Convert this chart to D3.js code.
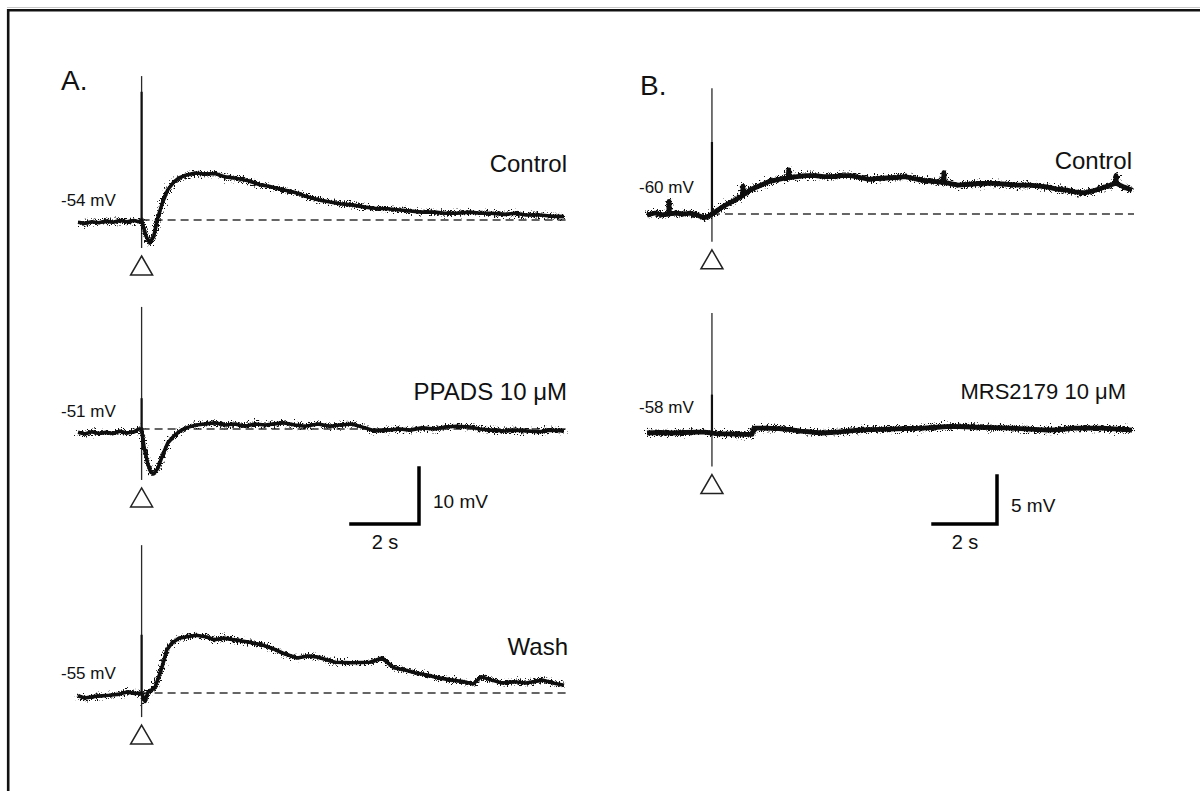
<!DOCTYPE html>
<html><head><meta charset="utf-8">
<script src="https://cdn.jsdelivr.net/npm/d3@7"></script>
<style>body{margin:0;background:#fff}svg{display:block}</style>
</head><body>
<svg id="c" width="1200" height="791"></svg>
<script>
// ---------------- DATA ----------------
const panelLabels = ["A.", "B."];
const namesA = ["Control", "PPADS 10 μM", "Wash"];
const namesB = ["Control", "MRS2179 10 μM"];
const restA = ["-54 mV", "-51 mV", "-55 mV"];
const restB = ["-60 mV", "-58 mV"];
const scaleA = [2, 10];              // [s, mV]
const scaleB = [2, 5];               // [s, mV]
const scaleLabelsA = ["2 s", "10 mV"];
const scaleLabelsB = ["2 s", "5 mV"];

// traces: [time from stimulus (s), change from resting potential (mV)]
const ctrlA = [[-1.87,-0.4],[-1.67,-0.6],[-1.46,-0.3],[-1.26,-0.5],[-1.05,-0.2],[-0.84,-0.4],[-0.64,-0.1],[-0.43,-0.3],[-0.23,-0.1],[-0.08,-0.3],[0,0],
 [0.04,-0.9],[0.13,-2.9],[0.24,-4.1],[0.36,-2.9],[0.48,0.5],[0.62,3.2],[0.77,5.4],[0.95,6.8],[1.10,7.5],[1.30,8.0],[1.57,8.4],[1.86,8.2],[2.16,8.3],
 [2.45,7.7],[2.74,7.5],[3.13,7.0],[3.48,6.3],[3.77,6.0],[4.16,5.4],[4.51,4.9],[4.80,4.3],[5.19,3.6],[5.54,3.2],[5.83,2.9],[6.18,2.7],[6.57,2.3],
 [6.86,2.1],[7.21,2.0],[7.60,1.8],[7.89,1.6],[8.24,1.4],[8.62,1.4],[8.92,1.2],[9.27,1.2],[9.66,1.4],[9.95,1.2],[10.27,1.2],[10.68,1.0],[10.98,1.2],
 [11.30,0.9],[11.71,0.9],[12.01,0.7],[12.42,0.6]];
const ppadsA = [[-1.87,-0.6],[-1.67,-0.9],[-1.46,-0.5],[-1.26,-0.8],[-1.05,-0.6],[-0.84,-0.8],[-0.64,-0.4],[-0.43,-0.7],[-0.23,-0.5],[-0.08,0.0],[0,0],
 [0.07,-3.2],[0.19,-6.4],[0.27,-7.7],[0.36,-8.0],[0.48,-7.0],[0.62,-4.6],[0.77,-2.5],[0.95,-1.25],[1.10,-0.5],[1.30,0.2],[1.60,0.7],[1.86,0.9],
 [2.16,1.1],[2.45,0.7],[2.74,0.9],[3.04,0.5],[3.33,0.9],[3.63,0.7],[4.16,1.1],[4.51,0.7],[4.80,0.5],[5.19,0.9],[5.54,0.5],[5.83,0.7],[6.18,0.9],
 [6.57,0.2],[6.86,-0.35],[7.21,-0.2],[7.60,0],[7.89,-0.2],[8.24,0.2],[8.62,0],[8.92,0.35],[9.27,0.5],[9.66,0.35],[9.95,0],[10.27,-0.2],[10.68,-0.35],
 [10.98,-0.2],[11.30,-0.35],[11.71,-0.5],[12.01,-0.2],[12.42,-0.35]];
const washA = [[-1.87,-0.5],[-1.67,-0.9],[-1.37,-0.6],[-0.96,-0.4],[-0.64,-0.2],[-0.43,0.2],[-0.20,-0.1],[0,0],[0.10,-1.5],[0.19,0.2],[0.39,0.9],
 [0.60,4.6],[0.74,7.7],[0.89,8.9],[1.10,9.8],[1.30,10.0],[1.60,10.3],[1.92,10.0],[2.13,9.5],[2.42,9.8],[2.71,9.5],[3.13,9.1],[3.54,8.6],[3.83,8.0],
 [4.16,7.1],[4.57,6.25],[4.90,6.6],[5.19,6.4],[5.69,5.5],[6.18,5.4],[6.71,5.5],[7.07,6.25],[7.42,4.5],[7.74,4.1],[8.04,3.6],[8.39,3.2],[8.74,2.7],
 [9.13,2.3],[9.48,2.0],[9.75,1.6],[9.98,2.9],[10.30,2.3],[10.60,1.8],[10.95,2.0],[11.30,1.8],[11.80,2.3],[12.10,1.8],[12.42,1.4]];
const ctrlB = [[-2.03,-0.1],[-1.78,0.1],[-1.56,-0.1],[-1.35,0.0],[-1.34,1.3],[-1.33,0.0],[-1.13,0.1],[-0.88,0.0],[-0.69,0.1],[-0.47,-0.1],[-0.25,-0.4],
 [-0.09,-0.2],[0,0],[0.09,0.2],[0.41,0.9],[0.69,1.4],[0.96,1.9],[0.97,2.9],[0.98,2.0],[1.25,2.6],[1.53,3.0],[1.81,3.4],[2.09,3.6],[2.38,3.8],[2.40,4.6],[2.42,3.8],
 [2.66,3.9],[2.94,4.0],[3.22,4.0],[3.50,3.9],[3.78,3.9],[4.06,4.0],[4.34,4.0],[4.63,3.8],[4.91,3.6],[5.19,3.7],[5.47,3.75],[5.75,3.8],[6.03,3.9],
 [6.31,3.7],[6.59,3.5],[6.91,3.4],[7.24,3.3],[7.25,4.3],[7.26,3.3],[7.69,3.0],[8.06,3.1],[8.44,3.2],[8.81,3.2],[9.19,3.1],[9.56,3.0],[9.94,3.0],
 [10.25,2.9],[10.50,2.8],[10.78,2.6],[11.06,2.5],[11.34,2.3],[11.63,2.2],[11.91,2.4],[12.19,2.7],[12.44,3.0],[12.62,3.2],[12.63,4.0],[12.64,3.2],
 [12.88,2.8],[13.13,2.5]];
const mrsB = [[-2.03,0],[-1.63,0.05],[-1.25,0],[-0.84,0.05],[-0.47,0.1],[-0.25,0.1],[0,0],[0.19,-0.1],[0.56,-0.1],[0.97,-0.15],[1.25,-0.15],[1.31,0.5],
 [1.69,0.5],[2.09,0.45],[2.44,0.35],[2.78,0.2],[3.13,0.1],[3.44,0],[3.69,0.05],[3.91,0.1],[4.25,0.2],[4.56,0.3],[5.0,0.35],[5.47,0.4],[6.03,0.45],
 [6.59,0.5],[7.03,0.6],[7.47,0.7],[7.91,0.65],[8.25,0.6],[8.81,0.55],[9.38,0.5],[9.94,0.4],[10.5,0.3],[10.88,0.35],[11.28,0.5],[11.75,0.5],
 [12.19,0.5],[12.69,0.4],[13.13,0.3]];

// stimulus marker extent [top mV, bottom mV] and artifact amplitude (mV)
const stimA = [[25.7,-5.0],[21.8,-9.1],[26.4,-4.3]];
const artA = [22.9, 5.5, 10.4];
const stimB = [[13.1,-2.9],[12.5,-3.5]];
const artB = [7.5, 4.0];

// ---------------- LAYOUT ----------------
const svg = d3.select("#c");
const font = "'Liberation Sans', Arial, Helvetica, sans-serif";
const ink = "#111";

svg.append("line").attr("x1",7).attr("x2",1200).attr("y1",7.5).attr("y2",7.5).attr("stroke","#c8c8c8").attr("stroke-width",1);
svg.append("path").attr("d","M8.2,800V10.2H1205").attr("fill","none").attr("stroke","#111").attr("stroke-width",2.6);

const defs = svg.append("defs");
const flt = defs.append("filter").attr("id","fuzz").attr("filterUnits","userSpaceOnUse")
  .attr("x",0).attr("y",0).attr("width",1200).attr("height",791);
flt.append("feTurbulence").attr("type","fractalNoise").attr("baseFrequency","1.3 0.6")
  .attr("numOctaves",1).attr("seed",11).attr("result","n");
flt.append("feDisplacementMap").attr("in","SourceGraphic").attr("in2","n").attr("scale",15)
  .attr("xChannelSelector","R").attr("yChannelSelector","G");

function panel(cfg) {
  const g = svg.append("g");
  const x = d3.scaleLinear().domain(d3.extent(cfg.traces[0], d => d[0])).range(cfg.xRange);
  g.append("text").text(cfg.label).attr("x", cfg.labelPos[0]).attr("y", cfg.labelPos[1])
    .attr("font-family", font).attr("font-size", 28).attr("fill", ink);
  cfg.traces.forEach((tr, i) => {
    const base = cfg.bases[i];
    const y = d3.scaleLinear().domain([0, cfg.scale[1]]).range([base, base - cfg.mvPx]);
    const line = d3.line().x(d => x(d[0])).y(d => y(d[1]));
    const x0 = x(0);
    if (cfg.dashed[i]) {
      g.append("line").attr("x1", x0).attr("x2", x(d3.max(tr, d => d[0])) + 2)
        .attr("y1", y(0)).attr("y2", y(0))
        .attr("stroke", "#333").attr("stroke-width", 1.5).attr("stroke-dasharray", "8,5");
    }
    g.append("line").attr("x1", x0).attr("x2", x0).attr("y1", y(cfg.stim[i][0])).attr("y2", y(cfg.stim[i][1]))
      .attr("stroke", "#2a2a2a").attr("stroke-width", 1.3);
    g.append("line").attr("x1", x0).attr("x2", x0).attr("y1", y(cfg.art[i])).attr("y2", y(0))
      .attr("stroke", "#111").attr("stroke-width", 2.2);
    g.append("path").datum(tr).attr("d", line).attr("fill", "none")
      .attr("stroke", ink).attr("stroke-width", cfg.lw).attr("stroke-linejoin", "round");
    g.append("path").datum(tr).attr("d", line).attr("fill", "none")
      .attr("stroke", ink).attr("stroke-width", cfg.lw * 0.85).attr("stroke-linejoin", "round")
      .attr("filter", "url(#fuzz)");
    const ty = y(cfg.stim[i][1]) + 8;
    g.append("path").attr("d", d3.line()([[x0, ty], [x0 + 11, ty + 19], [x0 - 11, ty + 19]]) + "Z")
      .attr("fill", "#fff").attr("stroke", "#222").attr("stroke-width", 1.5);
    g.append("text").text(cfg.names[i]).attr("x", cfg.nameX[i]).attr("y", cfg.nameY[i])
      .attr("text-anchor", "end").attr("font-family", font).attr("font-size", cfg.nameSize[i]).attr("fill", ink);
    g.append("text").text(cfg.rest[i]).attr("x", cfg.restX).attr("y", cfg.restY[i])
      .attr("font-family", font).attr("font-size", 17).attr("fill", ink);
  });
  const yS = d3.scaleLinear().domain([0, cfg.scale[1]]).range([cfg.barPos[1], cfg.barPos[1] - cfg.mvPx]);
  const bx = cfg.barPos[0];
  const bw = x(cfg.scale[0]) - x(0);
  g.append("path").attr("d", `M${bx - bw},${yS(0)}H${bx}V${yS(cfg.scale[1])}`)
    .attr("fill", "none").attr("stroke", "#000").attr("stroke-width", 3.5).attr("stroke-linecap", "square");
  g.append("text").text(cfg.scaleLabels[1]).attr("x", bx + 14).attr("y", yS(cfg.scale[1] / 2) + 12)
    .attr("font-family", font).attr("font-size", 19).attr("fill", ink);
  g.append("text").text(cfg.scaleLabels[0]).attr("x", bx - bw / 2).attr("y", yS(0) + 25)
    .attr("text-anchor", "middle").attr("font-family", font).attr("font-size", 20).attr("fill", ink);
}

panel({
  label: panelLabels[0], labelPos: [61, 90],
  traces: [ctrlA, ppadsA, washA], names: namesA, rest: restA,
  xRange: [78, 564], bases: [220, 429, 693], mvPx: 56,
  dashed: [true, true, true], stim: stimA, art: artA, lw: 3.6,
  nameX: [567, 567, 568], nameY: [172, 400, 655], nameSize: [24, 24, 24],
  restX: 61, restY: [206, 417, 679],
  scale: scaleA, scaleLabels: scaleLabelsA, barPos: [419, 524]
});
panel({
  label: panelLabels[1], labelPos: [640, 95],
  traces: [ctrlB, mrsB], names: namesB, rest: restB,
  xRange: [647, 1132], bases: [214, 433], mvPx: 48,
  dashed: [true, false], stim: stimB, art: artB, lw: 4.8,
  nameX: [1132, 1126], nameY: [169, 399], nameSize: [24, 22],
  restX: 639, restY: [193, 413],
  scale: scaleB, scaleLabels: scaleLabelsB, barPos: [997, 524]
});
</script>
</body></html>
